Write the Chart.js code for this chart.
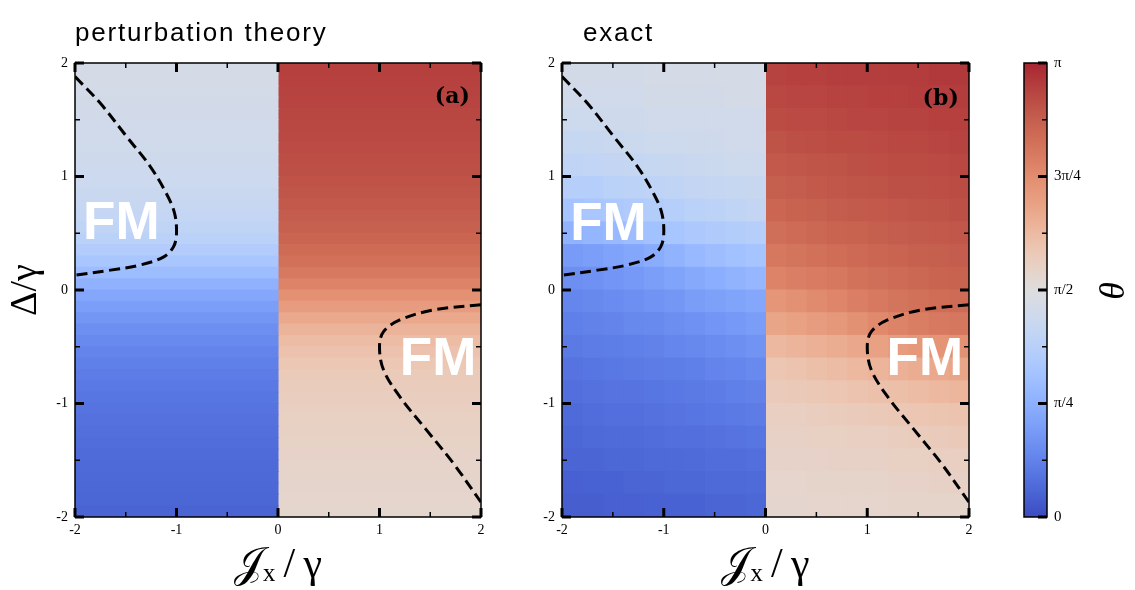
<!DOCTYPE html>
<html>
<head>
<meta charset="utf-8">
<script src="https://cdn.jsdelivr.net/npm/chart.js@4.4.1/dist/chart.umd.min.js"></script>
<style>
  html, body { margin: 0; padding: 0; background: #fff; }
  #page { position: relative; width: 1135px; height: 590px; }
  .box { position: absolute; top: 0; height: 590px; }
  #boxA { left: 0; width: 500px; }
  #boxB { left: 500px; width: 500px; }
  #boxC { left: 1000px; width: 135px; }
</style>
</head>
<body>
<div id="page">
  <div class="box" id="boxA"><canvas id="chartA"></canvas></div>
  <div class="box" id="boxB"><canvas id="chartB"></canvas></div>
  <div class="box" id="boxC"><canvas id="chartC"></canvas></div>
</div>
<script>
// --- data (theta in units of pi) ---
const axisTicks = [-2, -1, 0, 1, 2];
const axisMinorTicks = [-1.5, -0.5, 0.5, 1.5];
const thetaTicks = [0, 0.25, 0.5, 0.75, 1];
const thetaMinorTicks = [0.125, 0.375, 0.625, 0.875];
const thetaTickLabels = ['0', 'π/4', 'π/2', '3π/4', 'π'];

// perturbation theory: theta only depends on Delta, one column per sign of Jx
const pertColEdges = [-2, 0, 2];
const pertRowsY = [1.95, 1.85, 1.75, 1.65, 1.55, 1.45, 1.35, 1.25, 1.15, 1.05,
  0.95, 0.85, 0.75, 0.65, 0.55, 0.45, 0.35, 0.25, 0.15, 0.05,
  -0.05, -0.15, -0.25, -0.35, -0.45, -0.55, -0.65, -0.75, -0.85, -0.95,
  -1.05, -1.15, -1.25, -1.35, -1.45, -1.55, -1.65, -1.75, -1.85, -1.95];
const pertLeft = [0.466, 0.464, 0.462, 0.460, 0.458, 0.455, 0.452, 0.449, 0.445, 0.441,
  0.436, 0.430, 0.422, 0.412, 0.399, 0.382, 0.359, 0.330, 0.295, 0.258,
  0.225, 0.198, 0.176, 0.158, 0.143, 0.131, 0.120, 0.111, 0.103, 0.096,
  0.090, 0.084, 0.079, 0.074, 0.070, 0.066, 0.063, 0.060, 0.057, 0.054];
const pertRight = [0.946, 0.943, 0.940, 0.937, 0.934, 0.930, 0.926, 0.921, 0.916, 0.910,
  0.904, 0.897, 0.889, 0.880, 0.869, 0.857, 0.842, 0.824, 0.802, 0.775,
  0.742, 0.705, 0.670, 0.641, 0.618, 0.601, 0.588, 0.578, 0.570, 0.564,
  0.559, 0.555, 0.551, 0.548, 0.545, 0.542, 0.540, 0.538, 0.536, 0.534];

// exact solution on a 20 x 20 grid, rows from top (Delta = 1.9) to bottom
const exactColEdges = [-2, -1.8, -1.6, -1.4, -1.2, -1, -0.8, -0.6, -0.4, -0.2, 0,
  0.2, 0.4, 0.6, 0.8, 1, 1.2, 1.4, 1.6, 1.8, 2];
const exactRowsY = [1.9, 1.7, 1.5, 1.3, 1.1, 0.9, 0.7, 0.5, 0.3, 0.1,
  -0.1, -0.3, -0.5, -0.7, -0.9, -1.1, -1.3, -1.5, -1.7, -1.9];
const exactTheta = [
  [0.46, 0.46, 0.46, 0.46, 0.465, 0.465, 0.465, 0.465, 0.47, 0.47, 0.94, 0.945, 0.945, 0.95, 0.95, 0.95, 0.955, 0.955, 0.96, 0.96],
  [0.45, 0.45, 0.455, 0.455, 0.46, 0.46, 0.46, 0.46, 0.465, 0.465, 0.93, 0.935, 0.935, 0.94, 0.94, 0.945, 0.945, 0.95, 0.95, 0.955],
  [0.44, 0.44, 0.445, 0.445, 0.45, 0.45, 0.45, 0.455, 0.455, 0.455, 0.92, 0.925, 0.925, 0.93, 0.935, 0.935, 0.94, 0.94, 0.945, 0.945],
  [0.42, 0.425, 0.43, 0.435, 0.44, 0.44, 0.445, 0.445, 0.45, 0.45, 0.905, 0.91, 0.915, 0.92, 0.92, 0.925, 0.93, 0.93, 0.935, 0.94],
  [0.40, 0.405, 0.41, 0.415, 0.42, 0.425, 0.43, 0.435, 0.44, 0.44, 0.89, 0.895, 0.90, 0.905, 0.91, 0.915, 0.92, 0.92, 0.925, 0.93],
  [0.365, 0.37, 0.38, 0.39, 0.395, 0.40, 0.41, 0.415, 0.42, 0.425, 0.875, 0.88, 0.89, 0.895, 0.90, 0.905, 0.91, 0.91, 0.915, 0.92],
  [0.32, 0.33, 0.34, 0.35, 0.36, 0.37, 0.38, 0.39, 0.40, 0.41, 0.855, 0.865, 0.87, 0.88, 0.885, 0.89, 0.895, 0.90, 0.905, 0.91],
  [0.26, 0.27, 0.28, 0.295, 0.31, 0.325, 0.34, 0.35, 0.36, 0.37, 0.83, 0.84, 0.85, 0.86, 0.865, 0.875, 0.88, 0.885, 0.89, 0.895],
  [0.19, 0.20, 0.21, 0.225, 0.24, 0.26, 0.28, 0.295, 0.31, 0.32, 0.805, 0.815, 0.825, 0.835, 0.845, 0.855, 0.86, 0.87, 0.875, 0.88],
  [0.16, 0.165, 0.175, 0.185, 0.20, 0.215, 0.23, 0.245, 0.26, 0.275, 0.775, 0.785, 0.795, 0.805, 0.82, 0.83, 0.84, 0.85, 0.86, 0.865],
  [0.135, 0.14, 0.15, 0.16, 0.17, 0.18, 0.195, 0.205, 0.215, 0.225, 0.725, 0.74, 0.755, 0.77, 0.785, 0.80, 0.815, 0.825, 0.835, 0.84],
  [0.12, 0.125, 0.13, 0.14, 0.145, 0.155, 0.165, 0.175, 0.185, 0.195, 0.68, 0.69, 0.705, 0.72, 0.74, 0.76, 0.775, 0.79, 0.80, 0.81],
  [0.105, 0.11, 0.115, 0.12, 0.125, 0.135, 0.14, 0.15, 0.16, 0.17, 0.63, 0.64, 0.65, 0.66, 0.675, 0.69, 0.705, 0.72, 0.73, 0.74],
  [0.09, 0.095, 0.10, 0.105, 0.11, 0.115, 0.12, 0.13, 0.135, 0.145, 0.59, 0.60, 0.61, 0.62, 0.63, 0.64, 0.65, 0.66, 0.67, 0.68],
  [0.08, 0.085, 0.09, 0.09, 0.095, 0.10, 0.105, 0.11, 0.12, 0.125, 0.575, 0.58, 0.585, 0.59, 0.60, 0.605, 0.61, 0.62, 0.63, 0.635],
  [0.07, 0.075, 0.08, 0.08, 0.085, 0.09, 0.095, 0.10, 0.105, 0.11, 0.56, 0.56, 0.565, 0.57, 0.575, 0.58, 0.585, 0.59, 0.595, 0.60],
  [0.06, 0.065, 0.07, 0.07, 0.075, 0.08, 0.08, 0.085, 0.09, 0.095, 0.55, 0.55, 0.555, 0.555, 0.56, 0.56, 0.565, 0.57, 0.575, 0.58],
  [0.055, 0.055, 0.06, 0.06, 0.065, 0.065, 0.07, 0.075, 0.075, 0.08, 0.545, 0.545, 0.545, 0.55, 0.55, 0.55, 0.555, 0.555, 0.56, 0.56],
  [0.045, 0.05, 0.05, 0.055, 0.055, 0.06, 0.06, 0.065, 0.065, 0.07, 0.535, 0.535, 0.54, 0.54, 0.54, 0.54, 0.545, 0.545, 0.55, 0.55],
  [0.04, 0.04, 0.045, 0.045, 0.05, 0.05, 0.05, 0.055, 0.055, 0.06, 0.53, 0.53, 0.535, 0.535, 0.535, 0.535, 0.54, 0.54, 0.54, 0.54]
];

// FM phase boundaries (dashed)
const boundaryLeftX = [-2.0, -1.75, -1.49, -1.26, -1.10, -1.02, -1.0, -1.03, -1.13, -1.36, -1.65, -2.0];
const boundaryLeftY = [1.88, 1.645, 1.35, 1.09, 0.85, 0.68, 0.5, 0.38, 0.29, 0.22, 0.175, 0.13];
const boundaryRightX = [2.0, 1.53, 1.2, 1.04, 1.0, 1.04, 1.2, 1.46, 1.73, 2.0];
const boundaryRightY = [-0.13, -0.176, -0.264, -0.367, -0.5, -0.705, -0.94, -1.23, -1.53, -1.87];

// --- colormap (coolwarm as it appears in the figure) ---
const cmapStops = [
  [59, 76, 192], [68, 90, 204], [77, 104, 215], [87, 117, 225], [98, 130, 234],
  [108, 142, 241], [119, 154, 247], [130, 165, 251], [141, 176, 254], [152, 185, 255],
  [163, 194, 255], [174, 201, 253], [184, 208, 249], [194, 213, 244], [204, 217, 238],
  [213, 219, 230], [221, 221, 221], [228, 214, 206], [233, 206, 192], [236, 197, 177],
  [236, 186, 162], [235, 174, 147], [233, 162, 133], [230, 152, 122], [226, 141, 112],
  [219, 128, 102], [212, 117, 93], [205, 106, 85], [197, 95, 78], [190, 82, 71],
  [183, 68, 64], [176, 53, 57], [168, 38, 50]
];
const rgbStr = c => `rgb(${c.map(Math.round).join(',')})`;
function coolwarm(t) {
  const n = cmapStops.length - 1;
  const p = Math.min(Math.max(t, 0), 1) * n;
  const i = Math.min(Math.floor(p), n - 1);
  const f = p - i;
  const a = cmapStops[i], b = cmapStops[i + 1];
  return rgbStr([0, 1, 2].map(k => a[k] + (b[k] - a[k]) * f));
}

const serif = '"Liberation Serif", "DejaVu Serif", serif';
const sans = '"Liberation Sans", Arial, sans-serif';

// frame, inward ticks, panel title and in-plot labels
const framePlugin = {
  id: 'frame',
  afterDatasetsDraw(chart, args, opts) {
    const { ctx, chartArea: a } = chart;
    const xs = chart.scales.x, ys = chart.scales.y;
    ctx.save();
    ctx.strokeStyle = '#000';
    ctx.lineWidth = 1.5;
    ctx.strokeRect(a.left, a.top, a.right - a.left, a.bottom - a.top);
    const seg = (x1, y1, x2, y2, w) => {
      ctx.lineWidth = w;
      ctx.beginPath(); ctx.moveTo(x1, y1); ctx.lineTo(x2, y2); ctx.stroke();
    };
    const xt = (vals, len, w) => vals.forEach(v => {
      const p = xs.getPixelForValue(v);
      seg(p, a.bottom, p, a.bottom - len, w);
      seg(p, a.top, p, a.top + len, w);
    });
    const yt = (vals, len, w) => vals.forEach(v => {
      const p = ys.getPixelForValue(v);
      if (opts.ySides.includes('left')) seg(a.left, p, a.left + len, p, w);
      if (opts.ySides.includes('right')) seg(a.right, p, a.right - len, p, w);
    });
    xt(opts.xMajor, 9, 3); xt(opts.xMinor, 5, 1.5);
    yt(opts.yMajor, 9, 3); yt(opts.yMinor, 5, 1.5);

    (opts.labels || []).forEach(t => {
      ctx.font = t.font;
      ctx.fillStyle = t.color;
      ctx.textAlign = t.align;
      ctx.textBaseline = 'alphabetic';
      ctx.fillText(t.text, xs.getPixelForValue(t.x), ys.getPixelForValue(t.y));
    });
    if (opts.title) {
      ctx.font = '26px ' + sans;
      ctx.fillStyle = '#000';
      ctx.textAlign = 'left';
      ctx.textBaseline = 'alphabetic';
      ctx.letterSpacing = '1.8px';
      ctx.fillText(opts.title, a.left + opts.titleOffset, a.top - 22);
    }
    ctx.restore();
  }
};

function heatBar(data, colors) {
  return {
    type: 'bar', indexAxis: 'y', order: 1, grouped: false, data, backgroundColor: colors,
    barPercentage: 1, categoryPercentage: 1, borderWidth: 0, inflateAmount: 0.5, clip: 0
  };
}

function pertDatasets() {
  return [pertLeft, pertRight].map((vals, k) => heatBar(
    pertRowsY.map(y => ({ y, x: [pertColEdges[k], pertColEdges[k + 1]] })),
    vals.map(coolwarm)
  ));
}

function exactDatasets() {
  return exactColEdges.slice(0, -1).map((x0, j) => heatBar(
    exactRowsY.map(y => ({ y, x: [x0, exactColEdges[j + 1]] })),
    exactTheta.map(row => coolwarm(row[j]))
  ));
}

function boundaryDatasets() {
  return [[boundaryLeftX, boundaryLeftY], [boundaryRightX, boundaryRightY]].map(([xs, ys]) => ({
    type: 'line', order: 0,
    data: xs.map((x, i) => ({ x, y: ys[i] })),
    borderColor: '#000', borderWidth: 3, borderDash: [11, 5.5],
    pointRadius: 0, tension: 0.35, fill: false
  }));
}

function panelConfig(heat, p) {
  const tickFont = { family: serif, size: 14 };
  return {
    type: 'bar',
    data: { datasets: [...boundaryDatasets(), ...heat] },
    options: {
      responsive: true, maintainAspectRatio: false, animation: false, events: [],
      layout: { padding: { top: 63, right: p.padRight, left: 0, bottom: 0 } },
      plugins: {
        legend: { display: false }, tooltip: { enabled: false },
        frame: {
          xMajor: axisTicks, xMinor: axisMinorTicks, yMajor: axisTicks, yMinor: axisMinorTicks,
          ySides: ['left', 'right'], labels: p.labels, title: p.title, titleOffset: p.titleOffset
        }
      },
      scales: {
        x: {
          type: 'linear', min: -2, max: 2, offset: false,
          grid: { display: false, drawTicks: false, offset: false }, border: { display: false },
          afterBuildTicks: s => { s.ticks = axisTicks.map(v => ({ value: v })); },
          afterFit: s => { s.height = 73; },
          ticks: { font: tickFont, color: '#000', padding: 5, maxRotation: 0, autoSkip: false },
          title: { display: true, text: '𝒥ₓ\u2009/\u2009γ', color: '#000',
            font: { family: serif, size: 42, lineHeight: 1 }, padding: { top: 0, bottom: 3 } }
        },
        y: {
          type: 'linear', min: -2, max: 2, offset: false,
          grid: { display: false, drawTicks: false, offset: false }, border: { display: false },
          afterBuildTicks: s => { s.ticks = axisTicks.map(v => ({ value: v })); },
          afterFit: s => { s.width = p.yWidth; },
          ticks: { font: tickFont, color: '#000', padding: 7, autoSkip: false },
          title: { display: p.yTitle, text: 'Δ/γ', color: '#000',
            font: { family: serif, size: 38, lineHeight: 1 }, padding: { top: 7, bottom: 0 } }
        }
      }
    },
    plugins: [framePlugin]
  };
}

const fmFont = 'bold 53px ' + sans;
const tagFont = 'bold 22px "DejaVu Serif", serif';

new Chart(document.getElementById('chartA'), panelConfig(pertDatasets(), {
  padRight: 19, yWidth: 75, yTitle: true, title: 'perturbation theory', titleOffset: 0,
  labels: [
    { text: 'FM', x: -1.92, y: 0.45, font: fmFont, color: '#fff', align: 'left' },
    { text: 'FM', x: 1.20, y: -0.75, font: fmFont, color: '#fff', align: 'left' },
    { text: '(a)', x: 1.89, y: 1.65, font: tagFont, color: '#000', align: 'right' }
  ]
}));

new Chart(document.getElementById('chartB'), panelConfig(exactDatasets(), {
  padRight: 31, yWidth: 62, yTitle: false, title: 'exact', titleOffset: 21,
  labels: [
    { text: 'FM', x: -1.92, y: 0.44, font: fmFont, color: '#fff', align: 'left' },
    { text: 'FM', x: 1.19, y: -0.75, font: fmFont, color: '#fff', align: 'left' },
    { text: '(b)', x: 1.9, y: 1.63, font: tagFont, color: '#000', align: 'right' }
  ]
}));

// colour bar
new Chart(document.getElementById('chartC'), {
  type: 'bar',
  data: {
    datasets: [{
      data: [{ x: 0.5, y: [0, 1] }],
      backgroundColor: c => {
        const area = c.chart.chartArea;
        if (!area) return null;
        const g = c.chart.ctx.createLinearGradient(0, area.bottom, 0, area.top);
        cmapStops.forEach((rgb, i) => g.addColorStop(i / (cmapStops.length - 1), rgbStr(rgb)));
        return g;
      },
      barThickness: 60, borderWidth: 0, clip: 0
    }]
  },
  options: {
    responsive: true, maintainAspectRatio: false, animation: false, events: [],
    layout: { padding: { top: 63, bottom: 73, left: 24, right: 0 } },
    plugins: {
      legend: { display: false }, tooltip: { enabled: false },
      frame: { xMajor: [], xMinor: [], yMajor: thetaTicks, yMinor: thetaMinorTicks, ySides: ['right'] }
    },
    scales: {
      x: { type: 'linear', min: 0, max: 1, display: false },
      y: {
        type: 'linear', position: 'right', min: 0, max: 1,
        grid: { display: false, drawTicks: false }, border: { display: false },
        afterBuildTicks: s => { s.ticks = thetaTicks.map(v => ({ value: v })); },
        afterFit: s => { s.width = 88; },
        ticks: { callback: (v, i) => thetaTickLabels[i], font: { family: serif, size: 15 }, color: '#000', padding: 7 },
        title: { display: true, text: 'θ', color: '#000',
          font: { family: serif, size: 36, style: 'italic', lineHeight: 1 }, padding: { top: 9, bottom: 0 } }
      }
    }
  },
  plugins: [framePlugin]
});
</script>
</body>
</html>
